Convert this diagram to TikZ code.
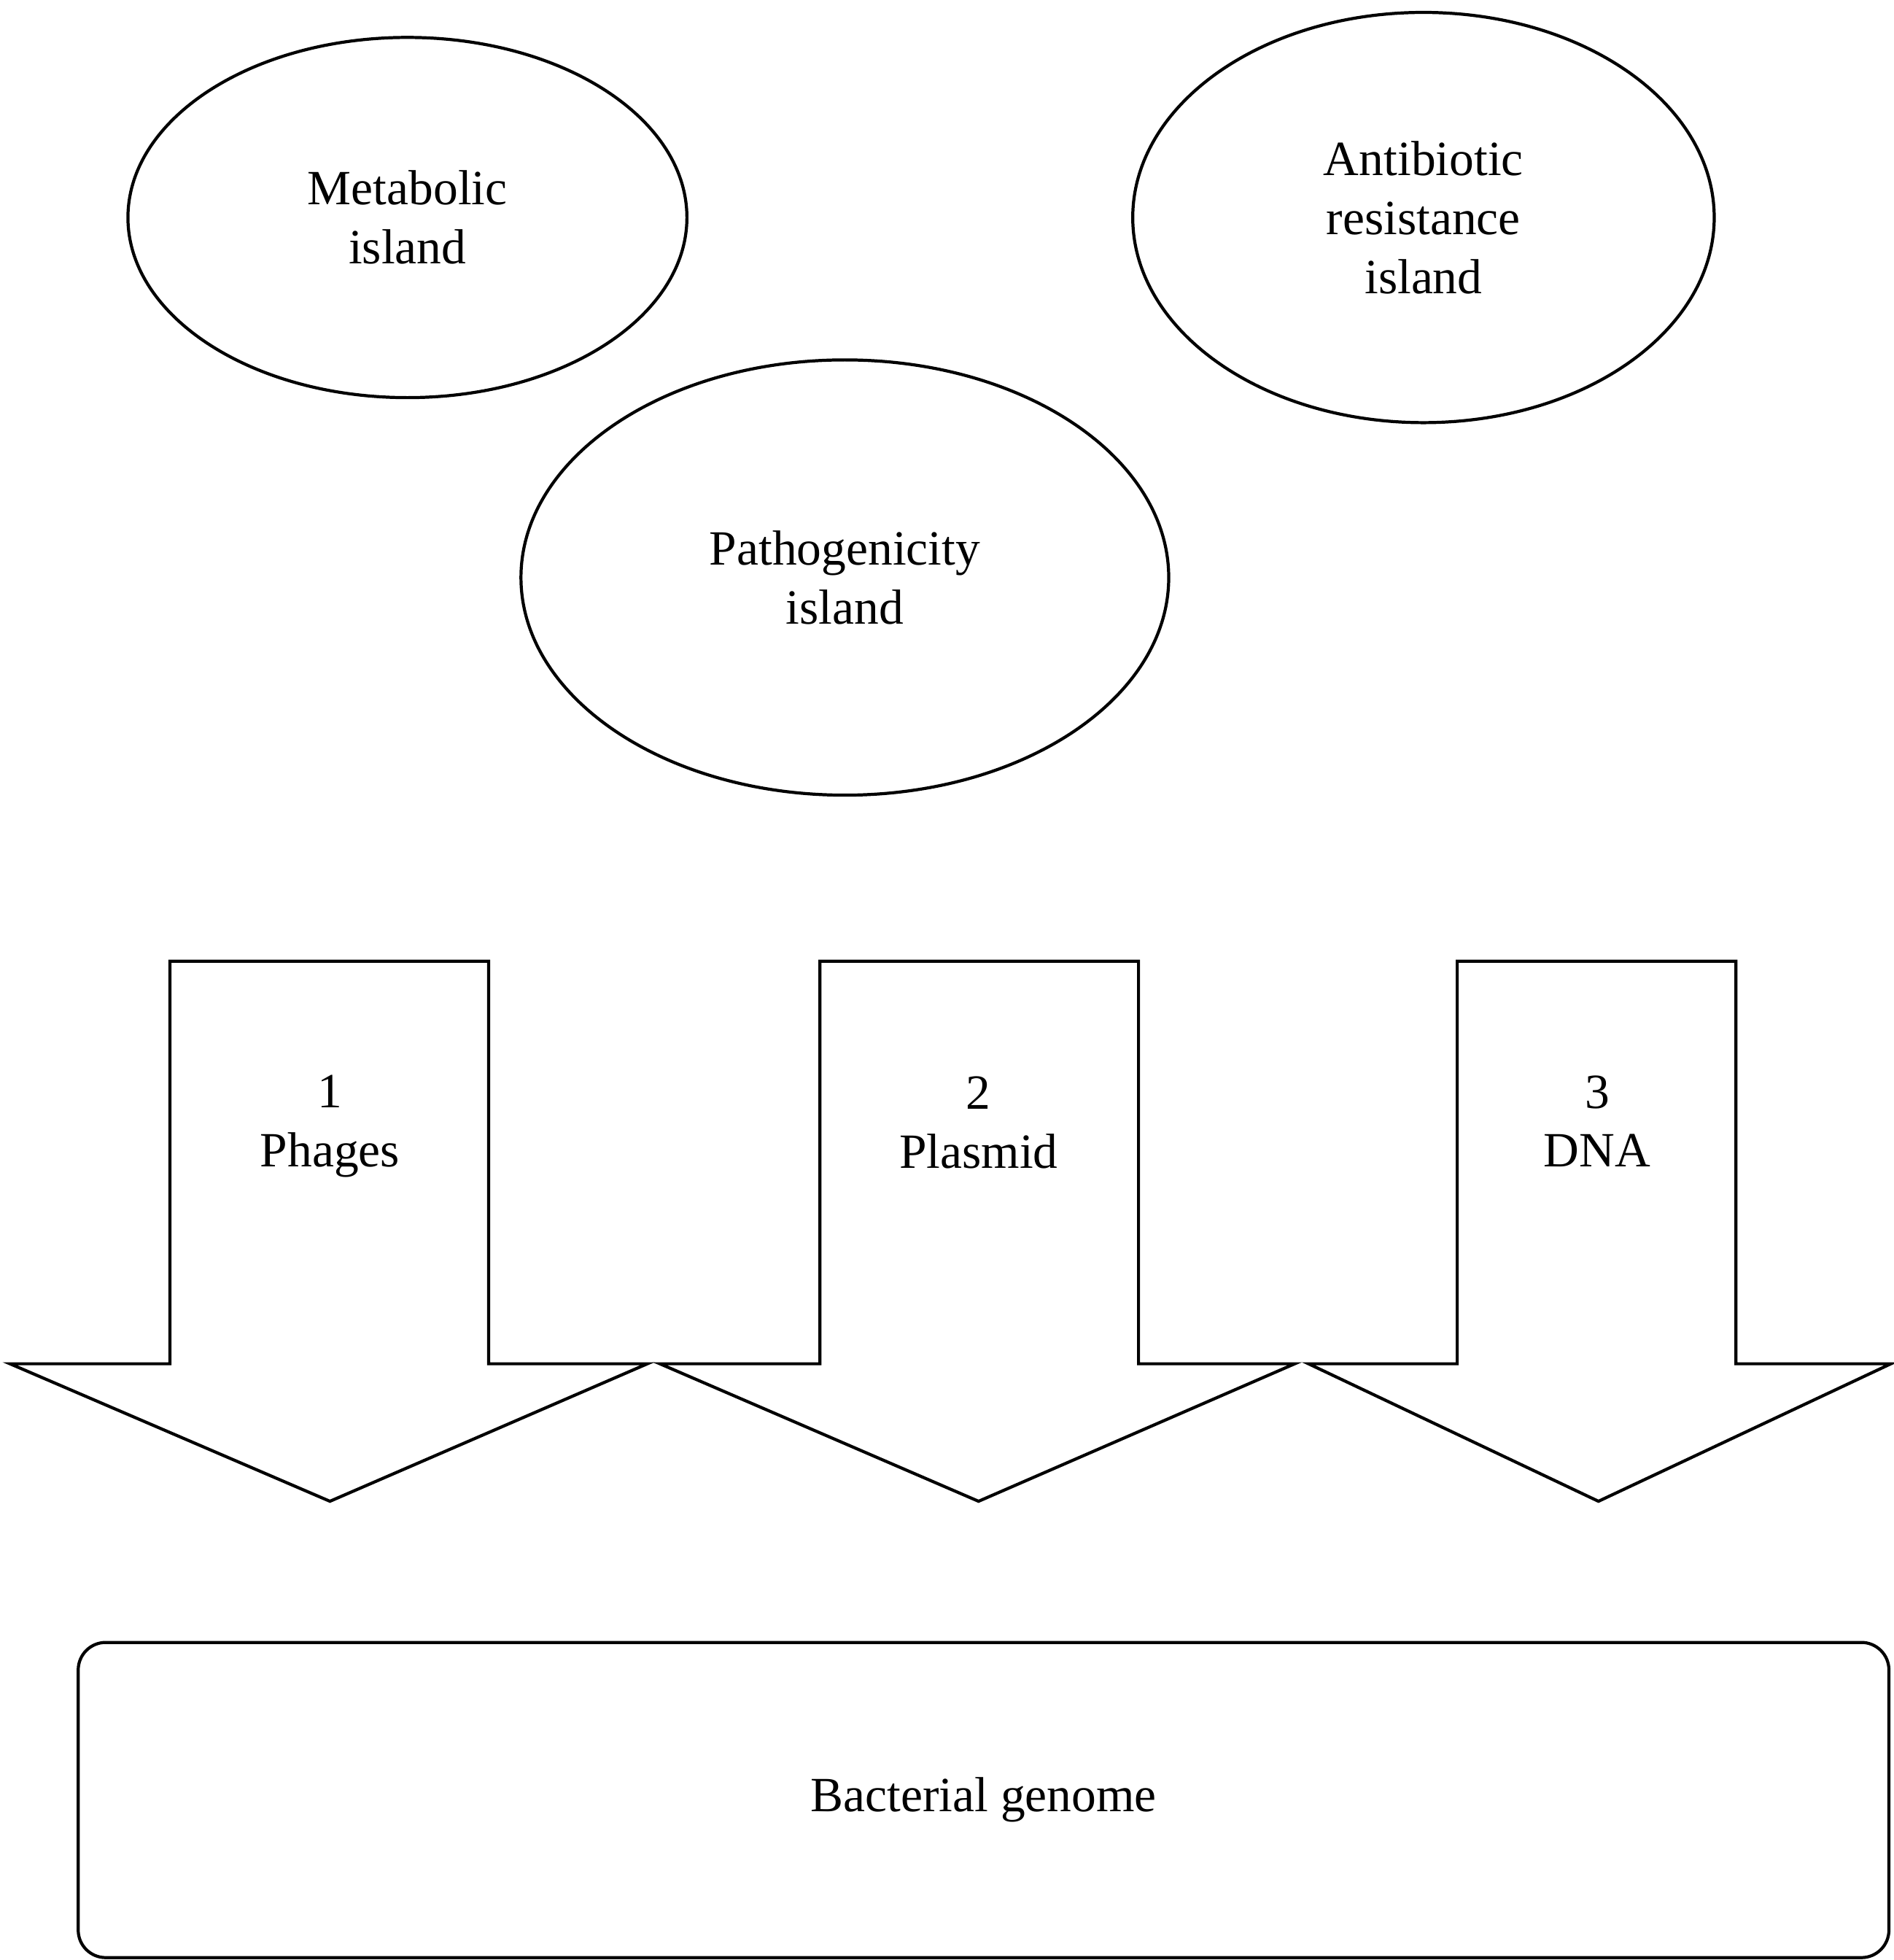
\documentclass[tikz,border=0pt]{standalone}
\usepackage{fontspec}
\setmainfont{Liberation Serif}
\usepackage{tikz}
\usetikzlibrary{positioning,shapes.geometric}

\tikzset{
    island/.style={draw, ellipse, line width=0.7pt, align=center, inner sep=0pt},
    route/.style={draw, line width=0.7pt, line join=miter},
    routelabel/.style={align=center},
    genome/.style={draw, rectangle, rounded corners=0.22cm, line width=0.7pt}
}

\begin{document}
\begin{tikzpicture}[x=0.01cm, y=-0.01cm, font=\fontsize{11.2}{13.4}\selectfont]
    \useasboundingbox (0,0) rectangle (1515,1568);

    % islands
    \node[island, minimum width=4.47cm, minimum height=2.88cm] (metabolic) at (326,174) {Metabolic\\island};
    \node[island, minimum width=4.65cm, minimum height=3.28cm] (antibiotic) at (1139,174) {Antibiotic\\resistance\\island};
    \node[island, minimum width=5.18cm, minimum height=3.48cm] (pathogenicity) at (676,462) {Pathogenicity\\island};

    % transfer routes
    \draw[route] (136,769) -- (391,769) -- (391,1091) -- (518,1091) -- (264,1201) -- (8,1091) -- (136,1091) -- cycle;
    \draw[route] (656,769) -- (911,769) -- (911,1091) -- (1036,1091) -- (783,1201) -- (528,1091) -- (656,1091) -- cycle;
    \draw[route] (1166,769) -- (1389,769) -- (1389,1091) -- (1513,1091) -- (1279,1201) -- (1047,1091) -- (1166,1091) -- cycle;

    \node[routelabel] (phages) at (264,901) {1\\Phages};
    \node[routelabel] (plasmid) at (783,898) {2\\Plasmid};
    \node[routelabel] (dna) at (1278,897) {3\\DNA};

    % genome
    \node[genome, minimum width=14.48cm, minimum height=2.52cm] (bacterial) at (787,1440) {Bacterial genome};
\end{tikzpicture}
\end{document}
